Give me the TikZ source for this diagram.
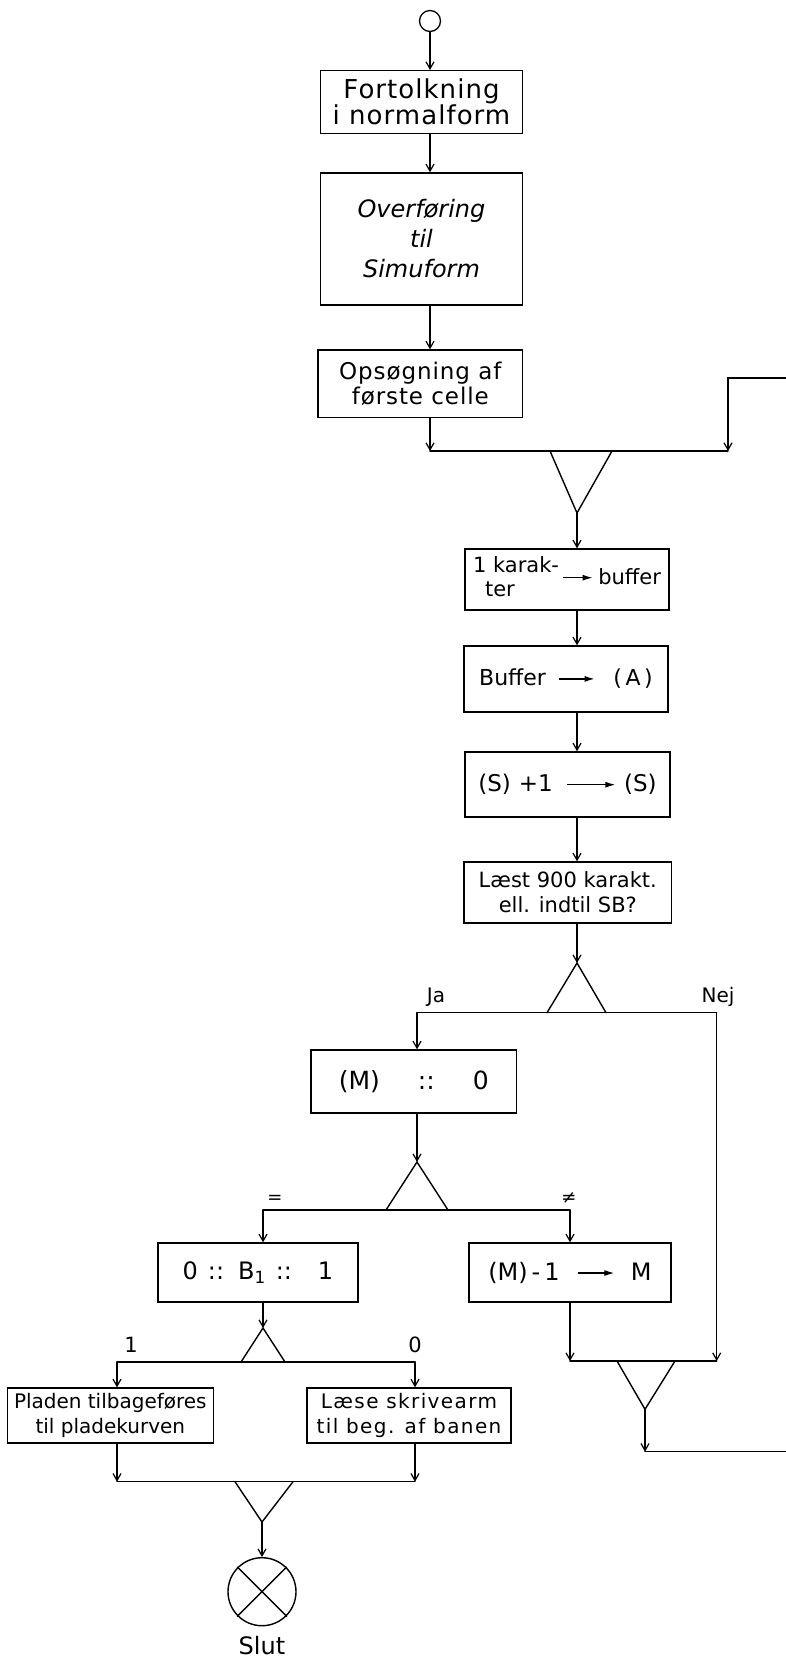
\documentclass[tikz,border=0pt]{standalone}
\usepackage{fontspec}
\setmainfont{DejaVu Sans}
\usetikzlibrary{arrows.meta}
\newcommand{\harrow}[1]{\tikz[baseline={(0pt,-7pt)}]\draw[line width=1.3pt,-{Latex[length=10pt,width=6pt]}] (0pt,0pt) -- (#1,0pt);}
\newcommand{\fs}[2]{\fontsize{#1}{#2}\selectfont}
\begin{document}
\begin{tikzpicture}[x=1pt,y=-1pt,
  box/.style={draw, line width=1.4pt, inner sep=0pt},
  mbox/.style={box, align=center},
  ln/.style={line width=1.4pt, line cap=round},
  arr/.style={line width=1.4pt, line cap=round, -{Straight Barb[length=7pt,width=8pt,line width=1.2pt]}},
  lbl/.style={inner sep=0pt}]
\fill[white] (0,0) rectangle (786,1661);
\useasboundingbox (0,0) rectangle (786,1661);

% start
\node[circle, draw, line width=1.3pt, minimum size=21pt, inner sep=0pt] (start) at (430,21) {};

% boxes
\node[mbox, minimum width=202pt, minimum height=62.6pt, font=\fs{26}{25}\addfontfeatures{LetterSpace=4}] (b1) at (421.5,102) {Fortolkning\\i normalform};
\node[mbox, minimum width=202pt, minimum height=132pt, font=\fs{24}{30}\itshape] (b2) at (421.5,239) {Overføring\\til\\Simuform};
\node[mbox, minimum width=204.5pt, minimum height=67.5pt, font=\fs{23}{25}\addfontfeatures{LetterSpace=4}] (b3) at (420.3,383.8) {Opsøgning af\\første celle};

\node[box, minimum width=204pt, minimum height=61pt, font=\fs{21}{24}] (b4) at (567,579.5)
  {\begin{tabular}{@{}l@{}}1 karak-\\\hspace*{12pt}ter\end{tabular}\hspace{3pt}\harrow{30pt}\hspace{5pt}buffer};
\node[box, minimum width=204pt, minimum height=66pt, font=\fs{22}{24}] (b5) at (566,679)
  {Buffer\hspace{12pt}\harrow{36pt}\hspace{18pt}(\,A\,)};
\node[box, minimum width=205pt, minimum height=65pt, font=\fs{23}{24}] (b6) at (567.5,784.5)
  {(S)\hspace{8pt}+1\hspace{14pt}\harrow{48pt}\hspace{8pt}(S)};
\node[mbox, minimum width=207.5pt, minimum height=61pt, font=\fs{21}{25}] (b7) at (567.8,892.5)
  {Læst 900 karakt.\\ell. indtil SB?};

\node[box, minimum width=205.5pt, minimum height=63pt, font=\fs{25}{25}] (b8) at (413.8,1081.5)
  {(M)\hspace{38pt}::\hspace{38pt}0\hspace{30pt}};

\node[box, minimum width=200pt, minimum height=59pt, font=\fs{24}{24}] (b9) at (258,1272.5)
  {0\hspace{10pt}::\hspace{14pt}B\textsubscript{1}\hspace{10pt}::\hspace{26pt}1};
\node[box, minimum width=202pt, minimum height=59pt, font=\fs{24}{24}] (b10) at (570,1272.5)
  {(M)\,-\,1\hspace{18pt}\harrow{36pt}\hspace{16pt}M\hspace{24pt}};

\node[mbox, minimum width=206pt, minimum height=55pt, font=\fs{20}{25}] (b11) at (110.3,1415.5)
  {Pladen tilbageføres\\til pladekurven};
\node[mbox, minimum width=204pt, minimum height=55pt, font=\fs{20}{25}\addfontfeatures{LetterSpace=7}] (b12) at (409,1415.5)
  {Læse skrivearm\\til beg. af banen};

% end
\node[circle, draw, line width=1.4pt, minimum size=68pt, inner sep=0pt] (stop) at (262,1591.7) {};
\draw[ln] (stop.north west) -- (stop.south east);
\draw[ln] (stop.north east) -- (stop.south west);
\node[lbl, font=\fs{24}{24}] (slut) at (262,1646) {Slut};

% coordinates
\coordinate (j1L) at (430,451);
\coordinate (j1R) at (728,451);
\coordinate (loopIn) at (786,378);
\coordinate (t1a) at (550,451);
\coordinate (t1b) at (612,451);
\coordinate (t1c) at (577,513);
\coordinate (t2c) at (577,963);
\coordinate (t2a) at (547,1012.7);
\coordinate (t2b) at (606,1012.7);
\coordinate (br2L) at (417,1012.7);
\coordinate (br2R) at (716.7,1012.7);
\coordinate (t3c) at (417,1162);
\coordinate (t3a) at (386,1210);
\coordinate (t3b) at (448,1210);
\coordinate (br3L) at (263,1210);
\coordinate (br3R) at (570,1210);
\coordinate (t4c) at (263,1328);
\coordinate (t4a) at (241,1362);
\coordinate (t4b) at (285,1362);
\coordinate (br4L) at (117,1362);
\coordinate (br4R) at (415,1362);
\coordinate (j5L) at (117,1481.7);
\coordinate (j5R) at (415,1481.7);
\coordinate (t5a) at (235,1481.7);
\coordinate (t5b) at (293,1481.7);
\coordinate (t5c) at (262,1522);
\coordinate (j6L) at (570,1361);
\coordinate (j6R) at (716.7,1361);
\coordinate (t6a) at (617,1361);
\coordinate (t6b) at (675,1361);
\coordinate (t6c) at (645,1409.3);
\coordinate (corner) at (645,1451.7);
\coordinate (exit) at (786,1451.7);

% labels
\node[lbl, font=\fs{20}{20}] (ja) at (436,997) {Ja};
\node[lbl, font=\fs{20}{20}] (nej) at (718,997) {Nej};
\node[lbl, font=\fs{18}{18}] (eq) at (275,1199) {=};
\node[lbl, font=\fs{18}{18}] (ne) at (569,1198) {≠};
\node[lbl, font=\fs{21}{21}] (one) at (131,1345) {1};
\node[lbl, font=\fs{21}{21}] (zero) at (415,1345) {0};

% connectors
\draw[arr] (start) -- (start |- b1.north);
\draw[arr] (b1.south -| start) -- (b2.north -| start);
\draw[arr] (b2.south -| start) -- (b3.north -| start);
\draw[arr] (b3.south -| start) -- (j1L);
\draw[ln] (j1L) -- (j1R);
\draw[arr] (loopIn) -| (j1R);
\draw[ln] (t1a) -- (t1c) -- (t1b);
\draw[arr] (t1c) -- (t1c |- b4.north);
\draw[arr] (b4.south -| t1c) -- (b5.north -| t1c);
\draw[arr] (b5.south -| t1c) -- (b6.north -| t1c);
\draw[arr] (b6.south -| t1c) -- (b7.north -| t1c);
\draw[arr] (b7.south -| t2c) -- (t2c);
\draw[ln] (t2a) -- (t2c) -- (t2b);
\draw[ln] (br2L) -- (br2R);
\draw[arr] (br2L) -- (br2L |- b8.north);
\draw[arr] (br2R) -- (j6R);
\draw[arr] (b8.south -| t3c) -- (t3c);
\draw[ln] (t3a) -- (t3c) -- (t3b);
\draw[ln] (br3L) -- (br3R);
\draw[arr] (br3L) -- (br3L |- b9.north);
\draw[arr] (br3R) -- (br3R |- b10.north);
\draw[arr] (b9.south -| t4c) -- (t4c);
\draw[ln] (t4a) -- (t4c) -- (t4b);
\draw[ln] (br4L) -- (br4R);
\draw[arr] (br4L) -- (br4L |- b11.north);
\draw[arr] (br4R) -- (br4R |- b12.north);
\draw[arr] (b11.south -| j5L) -- (j5L);
\draw[arr] (b12.south -| j5R) -- (j5R);
\draw[ln] (j5L) -- (j5R);
\draw[ln] (t5a) -- (t5c) -- (t5b);
\draw[arr] (t5c) -- (stop);
\draw[arr] (b10.south -| j6L) -- (j6L);
\draw[ln] (j6L) -- (j6R);
\draw[ln] (t6a) -- (t6c) -- (t6b);
\draw[arr] (t6c) -- (corner);
\draw[ln] (corner) -- (exit);
\end{tikzpicture}
\end{document}
